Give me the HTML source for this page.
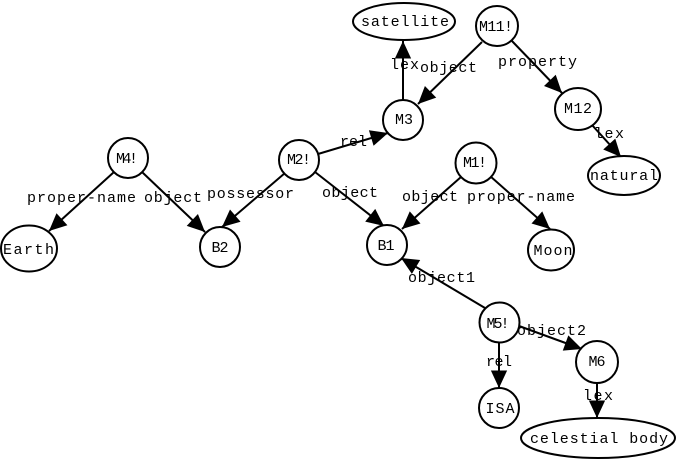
<!DOCTYPE html>
<html>
<head>
<meta charset="utf-8">
<style>
html,body{margin:0;padding:0;background:#fff;}
svg{display:block;}
text{font-family:"Liberation Mono","DejaVu Sans Mono",monospace;font-size:15px;fill:#000;}
</style>
</head>
<body>
<svg width="676" height="459" viewBox="0 0 676 459" xmlns="http://www.w3.org/2000/svg">
<defs>
<marker id="ar" markerUnits="userSpaceOnUse" markerWidth="20" markerHeight="20" refX="14" refY="0" orient="auto" viewBox="0 -8 16 16" overflow="visible">
<path d="M0,-6.5 L14,0 L0,6.5 z" fill="#000"/>
</marker>
</defs>
<rect width="676" height="459" fill="#fff"/>

<g stroke="#000" stroke-width="2" fill="none" marker-end="url(#ar)">
<line x1="403" y1="100" x2="403" y2="41"/>
<line x1="482" y1="42" x2="418" y2="104"/>
<line x1="511" y1="40" x2="562" y2="93"/>
<line x1="592" y1="125" x2="621" y2="157"/>
<line x1="318" y1="154" x2="388" y2="133"/>
<line x1="315" y1="172" x2="384" y2="226"/>
<line x1="285" y1="173" x2="222" y2="227"/>
<line x1="114" y1="172" x2="49" y2="231"/>
<line x1="142" y1="172" x2="205" y2="232"/>
<line x1="461" y1="177" x2="402" y2="229"/>
<line x1="490" y1="176" x2="550" y2="229"/>
<line x1="485" y1="308" x2="401" y2="258"/>
<line x1="519" y1="326" x2="582" y2="349"/>
<line x1="499" y1="342" x2="499" y2="388"/>
<line x1="597" y1="382" x2="597" y2="418"/>
</g>

<g stroke="#000" stroke-width="2" fill="#fff">
<ellipse cx="404" cy="21.5" rx="51" ry="18.5"/>
<ellipse cx="497" cy="26" rx="21" ry="20"/>
<circle cx="403" cy="120" r="20"/>
<ellipse cx="578" cy="109" rx="23" ry="21"/>
<ellipse cx="624" cy="175.5" rx="36" ry="19.5"/>
<circle cx="128" cy="158" r="20"/>
<circle cx="299" cy="160" r="20"/>
<circle cx="476" cy="163" r="20.5"/>
<ellipse cx="29" cy="248.5" rx="28" ry="23"/>
<circle cx="220" cy="247" r="20"/>
<circle cx="387" cy="245" r="20"/>
<ellipse cx="551" cy="250" rx="23" ry="20.5"/>
<circle cx="499.5" cy="322.5" r="20"/>
<circle cx="597" cy="362" r="21"/>
<circle cx="499" cy="408" r="20"/>
<ellipse cx="598" cy="438" rx="77" ry="20"/>
</g>

<g text-anchor="middle">
<text x="405" y="26" textLength="88" lengthAdjust="spacing">satellite</text>
<text x="496" y="31" textLength="34" lengthAdjust="spacing">M11!</text>
<text x="404" y="124" textLength="18" lengthAdjust="spacing">M3</text>
<text x="578" y="113" textLength="28" lengthAdjust="spacing">M12</text>
<text x="624" y="180" textLength="68" lengthAdjust="spacing">natural</text>
<text x="127" y="163" textLength="22" lengthAdjust="spacing">M4!</text>
<text x="299" y="164" textLength="24" lengthAdjust="spacing">M2!</text>
<text x="475" y="167" textLength="24" lengthAdjust="spacing">M1!</text>
<text x="28.5" y="254" textLength="51" lengthAdjust="spacing">Earth</text>
<text x="220" y="252" textLength="17" lengthAdjust="spacing">B2</text>
<text x="386" y="250" textLength="17" lengthAdjust="spacing">B1</text>
<text x="553" y="255" textLength="39" lengthAdjust="spacing">Moon</text>
<text x="498" y="328" textLength="23" lengthAdjust="spacing">M5!</text>
<text x="597" y="366" textLength="17" lengthAdjust="spacing">M6</text>
<text x="500" y="413" textLength="29" lengthAdjust="spacing">ISA</text>
<text x="599" y="443" textLength="138" lengthAdjust="spacing">celestial body</text>
</g>

<g>
<text x="390" y="69" textLength="29" lengthAdjust="spacing">lex</text>
<text x="420" y="72" textLength="57" lengthAdjust="spacing">object</text>
<text x="498" y="66" textLength="79" lengthAdjust="spacing">property</text>
<text x="594" y="138" textLength="30" lengthAdjust="spacing">lex</text>
<text x="340" y="146" textLength="27" lengthAdjust="spacing">rel</text>
<text x="322" y="197" textLength="56" lengthAdjust="spacing">object</text>
<text x="207" y="198" textLength="87" lengthAdjust="spacing">possessor</text>
<text x="27" y="202" textLength="109" lengthAdjust="spacing">proper-name</text>
<text x="144" y="202" textLength="58" lengthAdjust="spacing">object</text>
<text x="402" y="201" textLength="56" lengthAdjust="spacing">object</text>
<text x="467" y="201" textLength="108" lengthAdjust="spacing">proper-name</text>
<text x="408" y="282" textLength="67" lengthAdjust="spacing">object1</text>
<text x="517" y="335" textLength="69" lengthAdjust="spacing">object2</text>
<text x="486" y="366" textLength="26" lengthAdjust="spacing">rel</text>
<text x="583" y="400" textLength="30" lengthAdjust="spacing">lex</text>
</g>
</svg>
</body>
</html>
